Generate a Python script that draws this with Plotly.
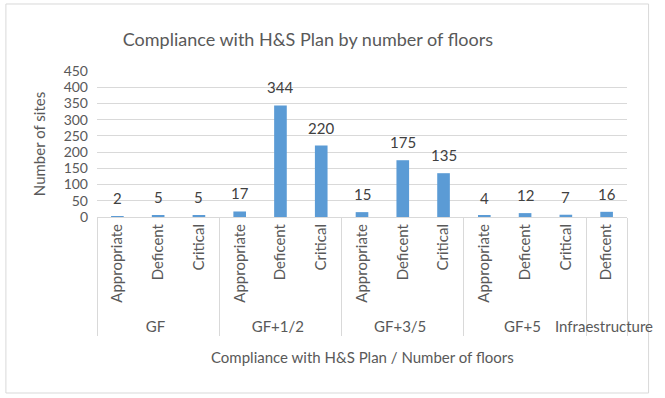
import plotly.graph_objects as go

groups = ["GF", "GF", "GF", "GF+1/2", "GF+1/2", "GF+1/2", "GF+3/5", "GF+3/5", "GF+3/5",
          "GF+5", "GF+5", "GF+5", "Infraestructure"]
levels = ["Appropriate", "Deficent", "Critical", "Appropriate", "Deficent", "Critical",
          "Appropriate", "Deficent", "Critical", "Appropriate", "Deficent", "Critical", "Deficent"]
values = [2, 5, 5, 17, 344, 220, 15, 175, 135, 4, 12, 7, 16]
y_ticks = [0, 50, 100, 150, 200, 250, 300, 350, 400, 450]

FONT = "Lato"
GRAY = "#595959"

fig = go.Figure()
fig.add_trace(go.Bar(x=[groups, levels], y=values, marker_color="#5b9bd5",
                     marker_line_width=0))

for i, v in enumerate(values):
    fig.add_annotation(x=i, y=v, text=str(v), showarrow=False, yshift=18,
                       yanchor="middle", font=dict(family=FONT, size=15, color="#404040"))

# x axis title
fig.add_annotation(x=0.5, y=-0.96, xref="paper", yref="paper", text="Compliance with H&S Plan / Number of floors",
                   showarrow=False, yanchor="middle", font=dict(family=FONT, size=15, color=GRAY))

# outer chart border
fig.add_shape(type="rect", xref="paper", yref="paper", x0=-0.1719, x1=1.0407, y0=-1.2055, y1=1.459,
              line=dict(color="#d9d9d9", width=1), fillcolor="rgba(0,0,0,0)", layer="below")

fig.update_layout(
    width=665, height=398,
    margin=dict(l=97, r=27, t=71, b=181),
    paper_bgcolor="white", plot_bgcolor="white",
    bargap=0.69,
    showlegend=False,
    title=dict(text="Compliance with H&S Plan by number of floors", x=0.463, y=0.8995,
               xanchor="center", yanchor="middle", xref="container", yref="container",
               font=dict(family=FONT, size=18, color=GRAY)),
    font=dict(family=FONT, color=GRAY),
)
fig.update_xaxes(type="multicategory", tickangle=-90, tickfont=dict(family=FONT, size=15, color=GRAY),
                 showline=True, linecolor="#d9d9d9", linewidth=1, showgrid=False,
                 showdividers=True, dividercolor="#d9d9d9", dividerwidth=1, ticks="")
fig.update_yaxes(range=[0, 450], tickvals=y_ticks, showgrid=True, gridcolor="#d9d9d9", gridwidth=1,
                 zeroline=False, showline=False, ticks="", ticklabelstandoff=8,
                 tickfont=dict(family=FONT, size=14, color=GRAY),
                 title=dict(text="Number of sites", standoff=14,
                            font=dict(family=FONT, size=15, color=GRAY)))

fig.write_html("out.html")
